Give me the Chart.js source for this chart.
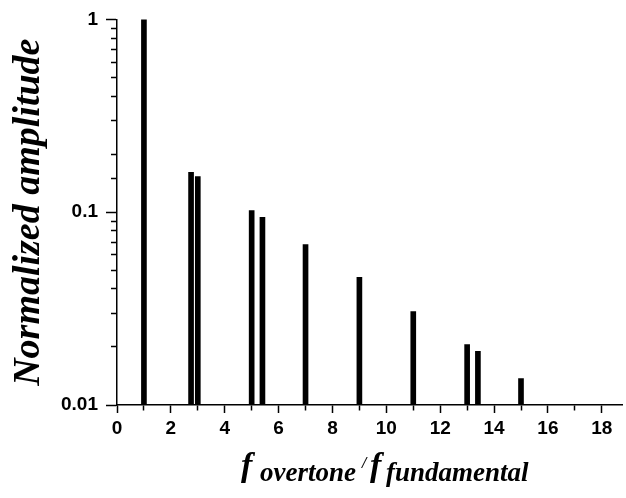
<!DOCTYPE html>
<html>
<head>
<meta charset="utf-8">
<script src="https://cdn.jsdelivr.net/npm/chart.js@4/dist/chart.umd.min.js"></script>
<style>
  html, body { margin: 0; padding: 0; background: #fff; overflow: hidden; }
  #wrap { width: 626px; height: 498px; position: relative; }
  #wrap canvas { display: block; }
</style>
</head>
<body>
<div id="wrap"><canvas id="c"></canvas></div>
<script>
// Overtone frequency ratios and their normalized amplitudes
const frequencyRatios = [1, 2.75, 3, 5, 5.4, 7, 9, 11, 13, 13.4, 15];
const amplitudes = [1, 0.161, 0.153, 0.102, 0.094, 0.068, 0.046, 0.0305, 0.0206, 0.019, 0.0137];

// Axis ranges and tick labels
const xRange = [0, 18.75];
const yRange = [0.01, 1];
const xTickValues = [0, 1, 2, 3, 4, 5, 6, 7, 8, 9, 10, 11, 12, 13, 14, 15, 16, 17, 18];
const xTickLabels = ['0', '2', '4', '6', '8', '10', '12', '14', '16', '18'];
const yTickLabels = ['0.01', '0.1', '1'];

const yTitle = 'Normalized amplitude';
const xTitleParts = ['f', 'overtone', '/', 'f', 'fundamental'];

const sansBold = { family: '"Liberation Sans", Arial, sans-serif', size: 19, weight: 'bold' };
const serif = '"Liberation Serif", "Times New Roman", serif';

const isDecade = v => Math.abs(Math.log10(v) - Math.round(Math.log10(v))) < 1e-6;

// Draws the x-axis caption with subscripts
const xCaption = {
  id: 'xCaption',
  afterDraw(chart) {
    const ctx = chart.ctx;
    ctx.save();
    ctx.fillStyle = '#000';
    ctx.textBaseline = 'alphabetic';
    ctx.textAlign = 'left';
    const big = 'italic bold 34px ' + serif;
    const sub = 'italic bold 27px ' + serif;
    const slash = 'italic bold 16px ' + serif;
    ctx.font = big;   ctx.fillText(xTitleParts[0], 241, 476);
    ctx.font = sub;   ctx.fillText(xTitleParts[1], 260, 481);
    ctx.font = slash; ctx.fillText(xTitleParts[2], 362, 468);
    ctx.font = big;   ctx.fillText(xTitleParts[3], 370, 476);
    ctx.font = sub;   ctx.fillText(xTitleParts[4], 386, 481);
    ctx.restore();
  }
};

new Chart(document.getElementById('c'), {
  type: 'bar',
  data: {
    datasets: [{
      data: frequencyRatios.map((f, i) => ({ x: f, y: amplitudes[i] })),
      backgroundColor: '#000',
      borderWidth: 0,
      barThickness: 5
    }]
  },
  options: {
    responsive: true,
    maintainAspectRatio: false,
    animation: false,
    layout: { padding: { top: 16, right: 4, left: 0, bottom: 0 } },
    plugins: { legend: { display: false }, tooltip: { enabled: false } },
    scales: {
      x: {
        type: 'linear',
        min: xRange[0],
        max: xRange[1],
        offset: false,
        afterBuildTicks: s => { s.ticks = xTickValues.map(v => ({ value: v })); },
        afterFit: s => { s.height = 93; },
        border: { display: true, color: '#000', width: 1.5 },
        grid: {
          offset: false,
          drawOnChartArea: false,
          drawTicks: true,
          tickLength: 8,
          tickColor: '#000',
          tickWidth: 1.5,
          tickBorderDash: c => (c.tick && c.tick.value % 2 === 0) ? [] : [5, 20]
        },
        ticks: {
          autoSkip: false,
          maxRotation: 0,
          padding: 4,
          color: '#000',
          font: sansBold,
          callback: v => xTickLabels.includes(String(v)) ? String(v) : ''
        }
      },
      y: {
        type: 'logarithmic',
        min: yRange[0],
        max: yRange[1],
        afterFit: s => { s.width = 117; },
        border: { display: true, color: '#000', width: 1.5 },
        grid: {
          drawOnChartArea: false,
          drawTicks: true,
          tickLength: 11,
          tickColor: '#000',
          tickWidth: 1.5,
          tickBorderDash: c => (c.tick && isDecade(c.tick.value)) ? [] : [0, 5, 20]
        },
        ticks: {
          autoSkip: false,
          padding: 8,
          color: '#000',
          font: sansBold,
          callback: v => {
            if (!isDecade(v)) return '';
            const s = String(Number(v.toPrecision(6)));
            return yTickLabels.includes(s) ? s : '';
          }
        },
        title: {
          display: true,
          text: yTitle,
          color: '#000',
          padding: { top: 6, bottom: 0 },
          font: { family: serif, size: 38, style: 'italic', weight: 'bold', lineHeight: 1.2 }
        }
      }
    }
  },
  plugins: [xCaption]
});
</script>
</body>
</html>
